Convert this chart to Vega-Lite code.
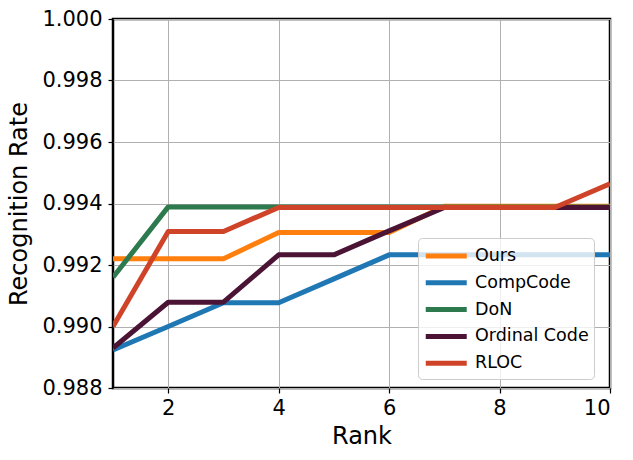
{
  "$schema": "https://vega.github.io/schema/vega-lite/v6.json",
  "width": 497,
  "height": 369,
  "autosize": {"type": "none"},
  "padding": {"left": 113, "top": 19, "right": 23, "bottom": 72},
  "background": "white",
  "config": {
    "font": "DejaVu Sans",
    "view": {"stroke": "black", "strokeWidth": 2.5},
    "axis": {
      "domain": false,
      "grid": true,
      "gridColor": "#b0b0b0",
      "gridWidth": 1,
      "tickColor": "black",
      "tickWidth": 1.2,
      "tickSize": 5,
      "labelFont": "DejaVu Sans",
      "labelFontSize": 21,
      "labelColor": "black",
      "titleFont": "DejaVu Sans",
      "titleFontSize": 24,
      "titleFontWeight": "normal",
      "titleColor": "black"
    }
  },
  "data": {
    "values": [
      {"rank": 1, "method": "Ours", "rate": 0.99220},
      {"rank": 2, "method": "Ours", "rate": 0.99220},
      {"rank": 3, "method": "Ours", "rate": 0.99220},
      {"rank": 4, "method": "Ours", "rate": 0.99306},
      {"rank": 5, "method": "Ours", "rate": 0.99306},
      {"rank": 6, "method": "Ours", "rate": 0.99306},
      {"rank": 7, "method": "Ours", "rate": 0.99391},
      {"rank": 8, "method": "Ours", "rate": 0.99391},
      {"rank": 9, "method": "Ours", "rate": 0.99391},
      {"rank": 10, "method": "Ours", "rate": 0.99391},
      {"rank": 1, "method": "CompCode", "rate": 0.98924},
      {"rank": 2, "method": "CompCode", "rate": 0.99000},
      {"rank": 3, "method": "CompCode", "rate": 0.99077},
      {"rank": 4, "method": "CompCode", "rate": 0.99077},
      {"rank": 5, "method": "CompCode", "rate": 0.99155},
      {"rank": 6, "method": "CompCode", "rate": 0.99233},
      {"rank": 7, "method": "CompCode", "rate": 0.99233},
      {"rank": 8, "method": "CompCode", "rate": 0.99233},
      {"rank": 9, "method": "CompCode", "rate": 0.99233},
      {"rank": 10, "method": "CompCode", "rate": 0.99233},
      {"rank": 1, "method": "DoN", "rate": 0.99160},
      {"rank": 2, "method": "DoN", "rate": 0.99389},
      {"rank": 3, "method": "DoN", "rate": 0.99389},
      {"rank": 4, "method": "DoN", "rate": 0.99389},
      {"rank": 5, "method": "DoN", "rate": 0.99389},
      {"rank": 6, "method": "DoN", "rate": 0.99389},
      {"rank": 7, "method": "DoN", "rate": 0.99389},
      {"rank": 8, "method": "DoN", "rate": 0.99389},
      {"rank": 9, "method": "DoN", "rate": 0.99389},
      {"rank": 10, "method": "DoN", "rate": 0.99389},
      {"rank": 1, "method": "Ordinal Code", "rate": 0.98930},
      {"rank": 2, "method": "Ordinal Code", "rate": 0.99079},
      {"rank": 3, "method": "Ordinal Code", "rate": 0.99079},
      {"rank": 4, "method": "Ordinal Code", "rate": 0.99233},
      {"rank": 5, "method": "Ordinal Code", "rate": 0.99233},
      {"rank": 6, "method": "Ordinal Code", "rate": 0.99311},
      {"rank": 7, "method": "Ordinal Code", "rate": 0.99387},
      {"rank": 8, "method": "Ordinal Code", "rate": 0.99387},
      {"rank": 9, "method": "Ordinal Code", "rate": 0.99387},
      {"rank": 10, "method": "Ordinal Code", "rate": 0.99387},
      {"rank": 1, "method": "RLOC", "rate": 0.99000},
      {"rank": 2, "method": "RLOC", "rate": 0.99309},
      {"rank": 3, "method": "RLOC", "rate": 0.99309},
      {"rank": 4, "method": "RLOC", "rate": 0.99387},
      {"rank": 5, "method": "RLOC", "rate": 0.99387},
      {"rank": 6, "method": "RLOC", "rate": 0.99387},
      {"rank": 7, "method": "RLOC", "rate": 0.99387},
      {"rank": 8, "method": "RLOC", "rate": 0.99387},
      {"rank": 9, "method": "RLOC", "rate": 0.99387},
      {"rank": 10, "method": "RLOC", "rate": 0.99464}
    ]
  },
  "mark": {"type": "line", "strokeWidth": 5, "clip": true, "strokeCap": "butt", "strokeJoin": "round"},
  "encoding": {
    "x": {
      "field": "rank",
      "type": "quantitative",
      "title": "Rank",
      "scale": {"domain": [1, 10], "nice": false, "zero": false},
      "axis": {"values": [2, 4, 6, 8, 10], "format": "d", "labelPadding": 4, "titlePadding": 6}
    },
    "y": {
      "field": "rate",
      "type": "quantitative",
      "title": "Recognition Rate",
      "scale": {"domain": [0.988, 1.0], "nice": false, "zero": false},
      "axis": {"values": [0.988, 0.99, 0.992, 0.994, 0.996, 0.998, 1.0], "format": ".3f", "labelPadding": 6, "titlePadding": 10}
    },
    "color": {
      "field": "method",
      "type": "nominal",
      "sort": ["Ours", "CompCode", "DoN", "Ordinal Code", "RLOC"],
      "scale": {
        "domain": ["Ours", "CompCode", "DoN", "Ordinal Code", "RLOC"],
        "range": ["#ff7f0e", "#1f77b4", "#2e7a4f", "#4b1434", "#cf4428"]
      },
      "legend": {
        "title": null,
        "orient": "none",
        "legendX": 305,
        "legendY": 219,
        "symbolType": "M-1,0H3",
        "symbolSize": 420,
        "symbolStrokeWidth": 5,
        "labelFont": "DejaVu Sans",
        "labelFontSize": 17.5,
        "labelColor": "black",
        "labelOffset": 26,
        "rowPadding": 3.8,
        "padding": 5,
        "fillColor": "rgba(255,255,255,0.8)",
        "strokeColor": "#cccccc",
        "cornerRadius": 4
      }
    }
  }
}
